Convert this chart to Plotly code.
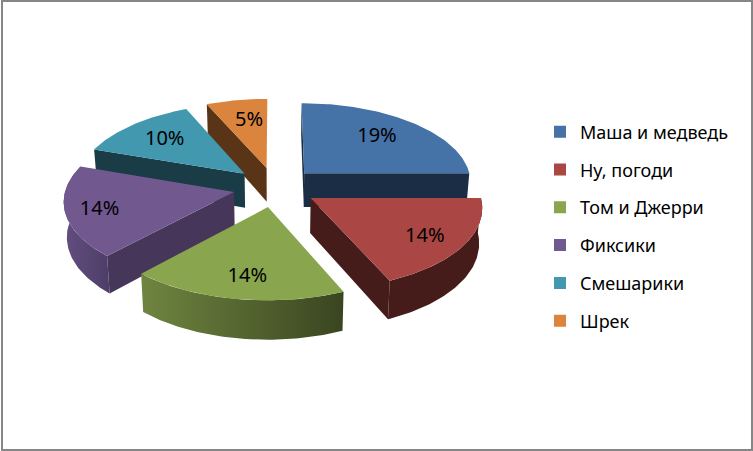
import math
import plotly.graph_objects as go

categories = ["Маша и медведь", "Ну, погоди", "Том и Джерри", "Фиксики", "Смешарики", "Шрек"]
values = [19, 14, 14, 14, 10, 5]
labels = ["19%", "14%", "14%", "14%", "10%", "5%"]

top_colors = ["#4572A7", "#AA4643", "#89A54E", "#71588F", "#4198AF", "#DB843D"]
start_wall = ["#1B2D45", None, None, "#46365A", "#1A3C47", "#5A3417"]
end_wall = ["#1B2D45", "#451C1A", None, None, None, None]
arc_wall = [None, ["#451C1A", "#451C1A"], ["#6F8540", "#3A4520"], ["#624E80", "#4E3D68"], None, None]
label_nudge = [(-9, 3), (1, 4), (3, 2.4), (-8.5, 3.4), (5.5, 3.4), (5.5, 5.4)]
draw_order = [5, 0, 4, 3, 1, 2]

# projection of the tilted, exploded pie
CX, CY, F, G, K = 275.0, 187.0, 168.0, 79.6, 0.10
EXPLODE, DEPTH, SHRINK = 0.25, 34.5, 0.985
FONT = "'Noto Sans', 'Open Sans', sans-serif"


def project(theta_deg, r, mid_deg, drop=False):
    t, m = math.radians(theta_deg), math.radians(mid_deg)
    x = EXPLODE * math.sin(m) + r * math.sin(t)
    y = -EXPLODE * math.cos(m) - r * math.cos(t)
    s = 1 / (1 - K * y)
    px, py = CX + F * x * s, CY + G * y * s
    if drop:
        px = CX + (px - CX) * SHRINK
        py += DEPTH * s
    return px, py


def arc(a, b, mid, drop=False):
    n = max(2, int(abs(b - a)))
    return [project(a + (b - a) * i / n, 1.0, mid, drop) for i in range(n + 1)]


def poly(fig, pts, color=None, scale=None):
    xs = [p[0] for p in pts] + [pts[0][0]]
    ys = [p[1] for p in pts] + [pts[0][1]]
    kw = dict(fillcolor=color) if scale is None else dict(
        fillgradient=dict(type="horizontal", colorscale=[[0, scale[0]], [1, scale[1]]]))
    fig.add_trace(go.Scatter(x=xs, y=ys, mode="lines", fill="toself", line=dict(width=0),
                             hoverinfo="skip", showlegend=False, **kw))


total = sum(values)
spans, acc = [], 0.0
for v in values:
    a = acc / total * 360
    acc += v
    spans.append((a, acc / total * 360))

fig = go.Figure()
for i in draw_order:
    a, b = spans[i]
    mid = (a + b) / 2
    for ang, wall in ((a, start_wall[i]), (b, end_wall[i])):
        if wall:
            poly(fig, [project(ang, 0, mid), project(ang, 1, mid),
                       project(ang, 1, mid, True), project(ang, 0, mid, True)], wall)
    if arc_wall[i]:
        poly(fig, arc(a, b, mid) + arc(b, a, mid, True), scale=arc_wall[i])
    poly(fig, [project(a, 0, mid)] + arc(a, b, mid), top_colors[i])

# percentage labels
lx, ly = [], []
for i, (a, b) in enumerate(spans):
    mid = (a + b) / 2
    p = project(mid, 1 - EXPLODE, mid)
    lx.append(p[0] + label_nudge[i][0]); ly.append(p[1] + label_nudge[i][1])
fig.add_trace(go.Scatter(x=lx, y=ly, mode="text", text=labels, hoverinfo="skip", showlegend=False,
                         textfont=dict(family=FONT, size=20, color="#000000")))

# legend
for i, name in enumerate(categories):
    fig.add_trace(go.Scatter(x=[None], y=[None], mode="markers", name=name, legendgroup=name,
                             marker=dict(symbol="square", size=12, color=top_colors[i])))

fig.update_layout(
    width=753, height=451, margin=dict(l=0, r=0, t=0, b=0),
    paper_bgcolor="#FFFFFF", plot_bgcolor="#FFFFFF",
    xaxis=dict(range=[0, 753], visible=False, fixedrange=True),
    yaxis=dict(range=[451, 0], visible=False, fixedrange=True),
    showlegend=True,
    legend=dict(x=540 / 753, y=1 - 113.5 / 451, xanchor="left", yanchor="top", traceorder="grouped",
                tracegroupgap=11.4, itemclick=False, itemdoubleclick=False, bgcolor="rgba(0,0,0,0)",
                font=dict(family=FONT, size=18, color="#000000")),
    shapes=[dict(type="rect", x0=2, y0=1, x1=752, y1=450, line=dict(color="#868686", width=2))],
)
fig.write_html("out.html", post_script="document.body.style.margin='0';", config={"displayModeBar": False})
